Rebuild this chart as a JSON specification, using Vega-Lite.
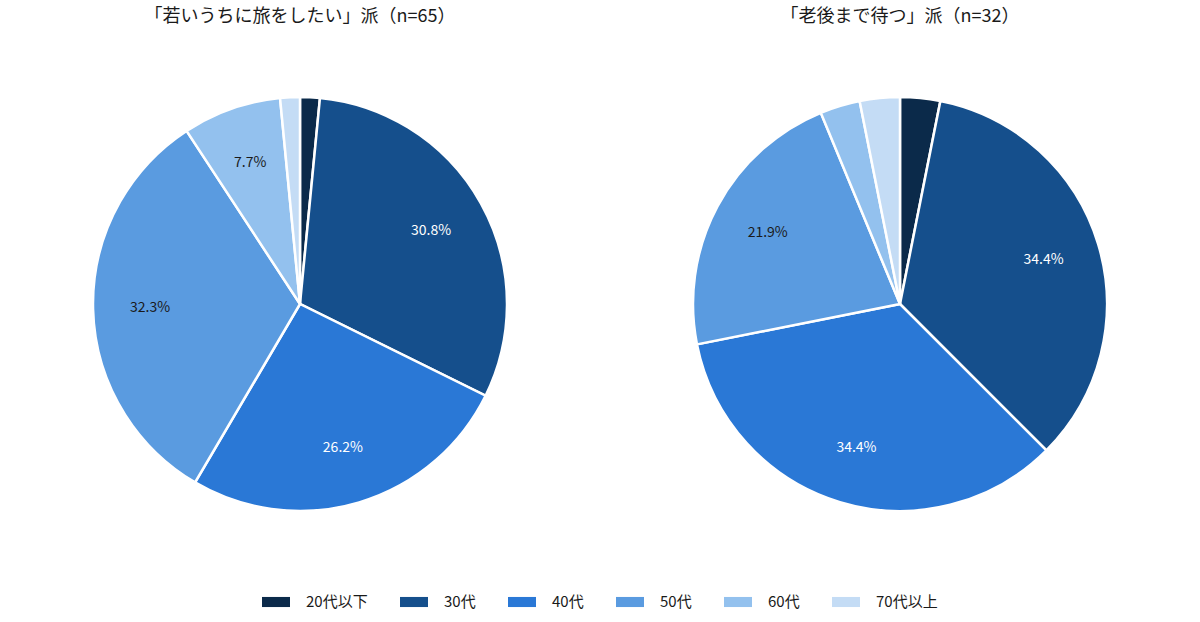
{
  "$schema": "https://vega.github.io/schema/vega-lite/v6.json",
  "padding": {"top": 8, "left": 0, "right": 0, "bottom": 0},
  "background": "white",
  "data": {
    "values": [
      {"group": "A", "age": "20代以下", "share": 0.01538},
      {"group": "A", "age": "30代", "share": 0.30769},
      {"group": "A", "age": "40代", "share": 0.26154},
      {"group": "A", "age": "50代", "share": 0.32308},
      {"group": "A", "age": "60代", "share": 0.07692},
      {"group": "A", "age": "70代以上", "share": 0.01538},
      {"group": "B", "age": "20代以下", "share": 0.03125},
      {"group": "B", "age": "30代", "share": 0.34375},
      {"group": "B", "age": "40代", "share": 0.34375},
      {"group": "B", "age": "50代", "share": 0.21875},
      {"group": "B", "age": "60代", "share": 0.03125},
      {"group": "B", "age": "70代以上", "share": 0.03125}
    ]
  },
  "spacing": 0,
  "hconcat": [
    {
      "width": 600,
      "height": 520,
      "title": "「若いうちに旅をしたい」派（n=65）",
      "transform": [{"filter": "datum.group == 'A'"}],
      "layer": [
        {
          "mark": {"type": "arc", "outerRadius": 207, "stroke": "white", "strokeWidth": 2.5},
          "encoding": {
            "theta": {"field": "share", "type": "quantitative", "stack": true},
            "order": {"field": "age", "sort": "ascending"},
            "color": {"field": "age", "type": "nominal", "sort": ["20代以下", "30代", "40代", "50代", "60代", "70代以上"]}
          }
        },
        {
          "mark": {"type": "text", "radius": 150, "fontSize": 14},
          "encoding": {
            "theta": {"field": "share", "type": "quantitative", "stack": true},
            "order": {"field": "age", "sort": "ascending"},
            "text": {"condition": {"test": "datum.share > 0.05", "field": "share", "format": ".1%"}, "value": ""},
            "color": {"condition": {"test": "datum.age == '30代' || datum.age == '40代'", "value": "white"}, "value": "#1a1a1a"}
          }
        }
      ]
    },
    {
      "width": 600,
      "height": 520,
      "title": "「老後まで待つ」派（n=32）",
      "transform": [{"filter": "datum.group == 'B'"}],
      "layer": [
        {
          "mark": {"type": "arc", "outerRadius": 207, "stroke": "white", "strokeWidth": 2.5},
          "encoding": {
            "theta": {"field": "share", "type": "quantitative", "stack": true},
            "order": {"field": "age", "sort": "ascending"},
            "color": {"field": "age", "type": "nominal", "sort": ["20代以下", "30代", "40代", "50代", "60代", "70代以上"]}
          }
        },
        {
          "mark": {"type": "text", "radius": 150, "fontSize": 14},
          "encoding": {
            "theta": {"field": "share", "type": "quantitative", "stack": true},
            "order": {"field": "age", "sort": "ascending"},
            "text": {"condition": {"test": "datum.share > 0.05", "field": "share", "format": ".1%"}, "value": ""},
            "color": {"condition": {"test": "datum.age == '30代' || datum.age == '40代'", "value": "white"}, "value": "#1a1a1a"}
          }
        }
      ]
    }
  ],
  "resolve": {"scale": {"color": "shared"}},
  "config": {
    "font": "Noto Sans CJK JP",
    "view": {"stroke": null},
    "range": {"category": ["#0b2a4a", "#154f8c", "#2a78d6", "#5a9be0", "#93c1ee", "#c4dcf5"]},
    "title": {"fontSize": 18, "fontWeight": "normal", "color": "#1a1a1a", "anchor": "middle", "offset": 18},
    "legend": {
      "orient": "none",
      "direction": "horizontal",
      "legendX": 262,
      "legendY": 544,
      "title": null,
      "symbolType": "M-1,-0.36H1V0.36H-1Z",
      "symbolSize": 784,
      "symbolStrokeWidth": 0,
      "labelFontSize": 15,
      "labelColor": "#1a1a1a",
      "labelOffset": 16,
      "columnPadding": 32
    }
  }
}
